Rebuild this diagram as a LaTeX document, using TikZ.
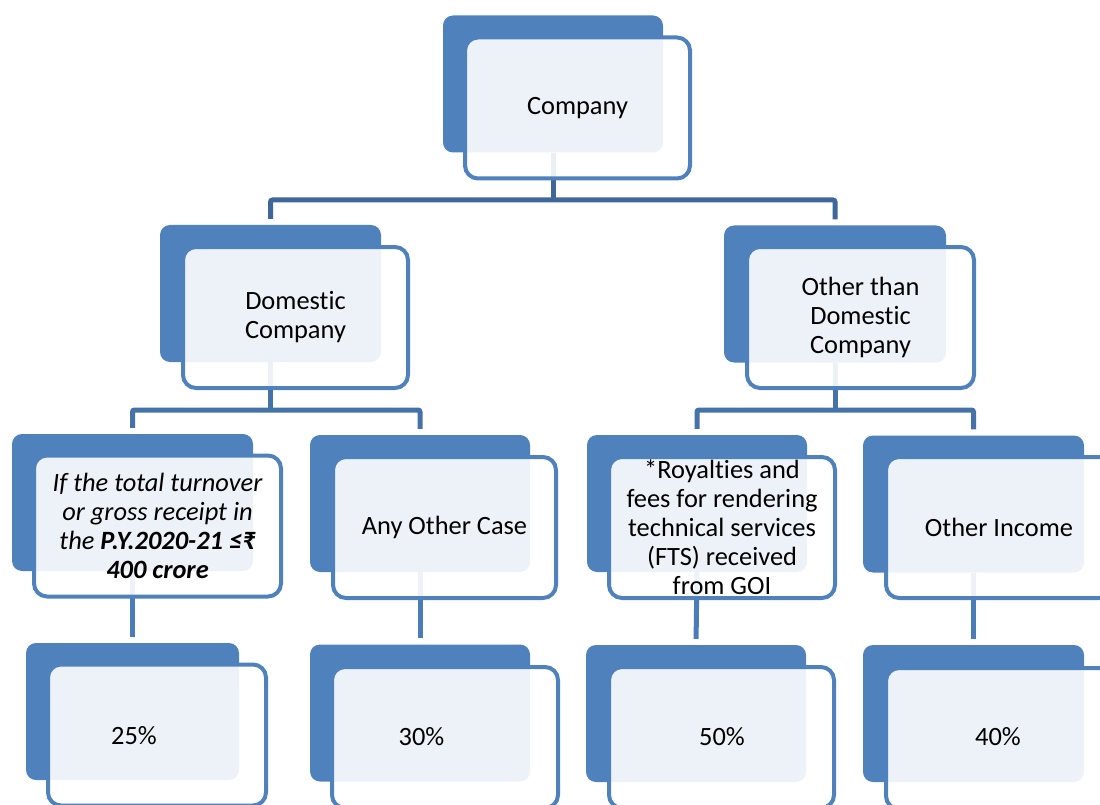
\documentclass[tikz,border=0pt]{standalone}
\usepackage{fontspec}
\setmainfont{Carlito}[Ligatures={NoCommon}]
\definecolor{Accent}{RGB}{79, 129, 189}
\definecolor{LinkTop}{RGB}{64, 103, 154}
\definecolor{LinkMid}{RGB}{70, 114, 170}
\definecolor{LinkLow}{RGB}{74, 124, 186}
\usepackage{tikz}

\begin{document}
\begin{tikzpicture}[x=1pt, y=-1pt,
    every node/.style={font=\fontsize{26.4}{29}\selectfont, align=center},
    backbox/.style={fill=Accent, rounded corners=10pt, minimum height=137pt, inner sep=0pt},
    frontbox/.style={draw=Accent, line width=4pt, fill=white, fill opacity=0.9, text opacity=1,
        rounded corners=13pt, minimum height=141pt, inner sep=0pt},
    link/.style={line width=5pt, rounded corners=2pt}
]
\useasboundingbox (0,0) rectangle (1100,805);
% Blocuri din spate
\foreach \n/\x/\y/\w in {comp/553/84/220, dom/270.5/293.5/221, oth/835/294/222,
    turn/132.5/502.5/241, anyc/420/503.5/220, roy/697/503.5/220, othinc/973.5/504/221,
    r25/132.5/711.5/213, r30/420/713/220, r50/696/713.5/220, r40/973.5/713.5/221} {
    \node[backbox, minimum width=\w pt] (\n-b) at (\x,\y) {};
}
% Legaturi
\coordinate (j0) at (553,200);
\coordinate (j1) at (270.5,410);
\coordinate (j2) at (835,410);
\draw[link, LinkTop] (comp-b.south) -- (j0);
\draw[link, LinkTop, shorten <=6pt, shorten >=6pt] (dom-b.north) |- (j0 -| oth-b.north) -- (oth-b.north);
\draw[link, LinkMid] (dom-b.south) -- (j1);
\draw[link, LinkMid, shorten <=6pt, shorten >=6pt] (turn-b.north) |- (j1 -| anyc-b.north) -- (anyc-b.north);
\draw[link, LinkMid] (oth-b.south) -- (j2);
\draw[link, LinkMid, shorten <=6pt, shorten >=6pt] (roy-b.north) |- (j2 -| othinc-b.north) -- (othinc-b.north);
\foreach \a/\b in {turn/r25, anyc/r30, roy/r50, othinc/r40} {
    \draw[link, LinkLow, shorten >=6pt] (\a-b.south) -- (\b-b.north);
}
% Blocuri din fata
\foreach \n/\x/\y/\w/\txt in {comp/577.5/108/225/Company,
    dom/295.5/317.5/225/{Domestic\\Company},
    oth/860.5/317.5/227/{Other than\\Domestic\\Company},
    turn/157.5/526/247/{\itshape If the total turnover\\\itshape or gross receipt in\\\itshape the \textbf{P.Y.2020-21 ≤₹}\\\bfseries\itshape 400 crore},
    anyc/444.5/527.5/223/{Any Other Case},
    roy/722/527.5/226/{*Royalties and\\fees for rendering\\technical services\\(FTS) received\\from GOI},
    othinc/999/527.5/226/{Other Income},
    r25/157/735/218/{}, r30/445/737.5/226/{}, r50/721.5/737.5/225/{}, r40/999/738.5/226/{}} {
    \node[frontbox, minimum width=\w pt] (\n) at (\x,\y) {\txt};
}
% Procente
\node (r25-t) at (134,736) {25\%};
\node (r30-t) at (421.5,737) {30\%};
\node (r50-t) at (722,737) {50\%};
\node (r40-t) at (998,737) {40\%};
\end{tikzpicture}
\end{document}
